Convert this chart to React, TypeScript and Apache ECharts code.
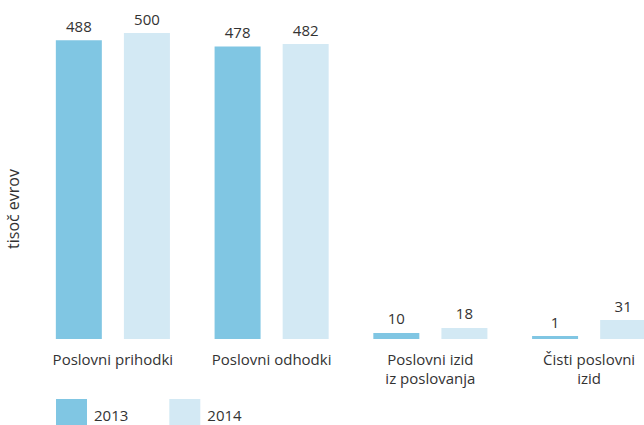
import React, { useEffect, useRef } from "react";
import * as echarts from "echarts";

const categories = ["Poslovni prihodki", "Poslovni odhodki", "Poslovni izid\niz poslovanja", "Čisti poslovni\nizid"];
const values2013 = [488, 478, 10, 1];
const values2014 = [500, 482, 18, 31];
const seriesNames = ["2013", "2014"];
const yAxisName = "tisoč evrov";

const FONT = "'Open Sans', 'Noto Sans', sans-serif";
const TXT = "#333333";

export default function App() {
  const ref = useRef<HTMLDivElement>(null);
  useEffect(() => {
    if (!ref.current) return;
    const chart = echarts.init(ref.current, null, { renderer: "svg" });
    const label = {
      show: true,
      position: "top",
      distance: 7,
      color: TXT,
      fontSize: 15,
      fontFamily: FONT,
    };
    chart.setOption({
      animation: false,
      textStyle: { fontFamily: FONT },
      grid: { left: 33.5, right: -24.5, top: 33, bottom: 86, outerBoundsMode: "none", containLabel: false },
      legend: {
        left: 56,
        top: 399,
        padding: 0,
        itemWidth: 31,
        itemHeight: 31,
        itemGap: 41,
        icon: "rect",
        textStyle: { color: TXT, fontSize: 15, fontFamily: FONT, padding: [0, 0, 0, 2] },
        data: seriesNames,
      },
      graphic: [
        {
          type: "text",
          x: 13,
          y: 209,
          rotation: Math.PI / 2,
          style: {
            text: yAxisName,
            fill: TXT,
            fontSize: 16,
            fontFamily: FONT,
            align: "center",
            verticalAlign: "middle",
          },
        },
      ],
      xAxis: {
        type: "category",
        data: categories,
        axisLine: { show: false },
        axisTick: { show: false },
        axisLabel: {
          color: TXT,
          fontSize: 15,
          fontFamily: FONT,
          margin: 10,
          lineHeight: 19,
          interval: 0,
        },
      },
      yAxis: {
        type: "value",
        min: 0,
        max: 500,
        axisLine: { show: false },
        axisTick: { show: false },
        axisLabel: { show: false },
        splitLine: { show: false },
      },
      series: [
        {
          name: seriesNames[0],
          type: "bar",
          data: values2013,
          barWidth: 46,
          barGap: "48%",
          barMinHeight: 3,
          itemStyle: { color: "#80C6E3" },
          label,
        },
        {
          name: seriesNames[1],
          type: "bar",
          data: values2014,
          barWidth: 46,
          barMinHeight: 3,
          itemStyle: { color: "#D3E9F4" },
          label,
        },
      ],
    });
    return () => chart.dispose();
  }, []);
  return (
    <div
      ref={ref}
      style={{ position: "fixed", left: 0, top: 0, width: 644, height: 425, background: "#fff" }}
    />
  );
}
